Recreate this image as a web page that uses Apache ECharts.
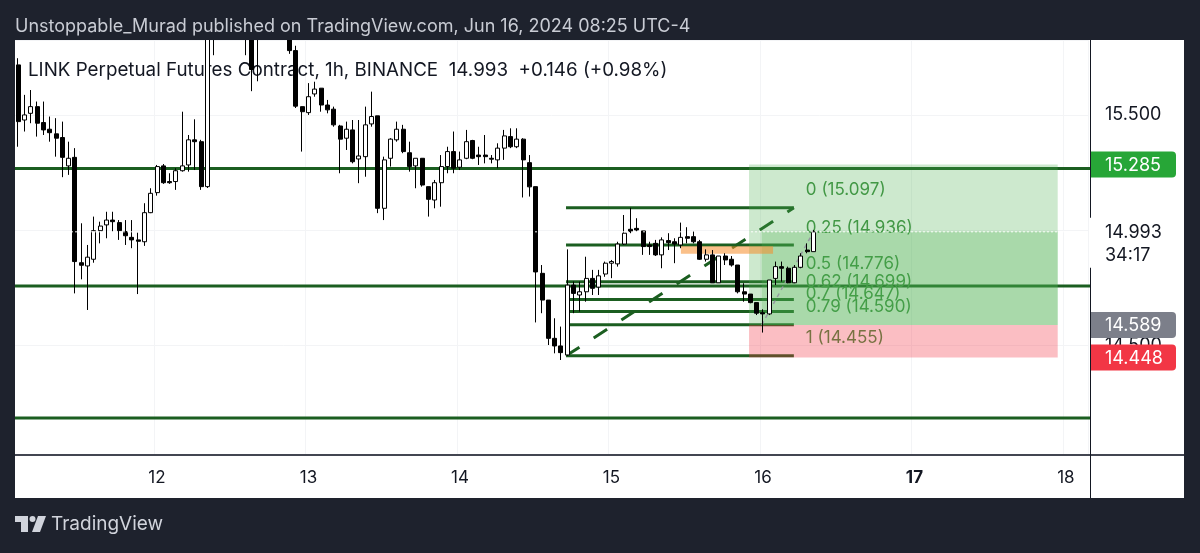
<!DOCTYPE html>
<html><head><meta charset="utf-8">
<script src="https://cdn.jsdelivr.net/npm/echarts@6/dist/echarts.min.js"></script>
<style>html,body{margin:0;padding:0;background:#1e222d;}#c{width:1200px;height:553px;}</style>
</head><body><div id="c"></div>
<script>
// ---------- DATA ----------
const titleText = 'Unstoppable_Murad published on TradingView.com, Jun 16, 2024 08:25 UTC-4';
const legendText = 'LINK Perpetual Futures Contract, 1h, BINANCE  14.993  +0.146 (+0.98%)';
const boldDay = '17';
const slotCount = 170;           // hourly slots starting Jun 11 02:00
const firstDay = 11, firstHour = 2;

const opens = [15.717,15.478,15.507,15.536,15.467,15.438,15.418,15.402,15.279,15.316,
14.859,14.845,14.874,14.998,15.023,15.044,15.033,14.994,14.969,14.958,
14.950,15.076,15.163,15.279,15.211,15.211,15.258,15.283,15.392,15.384,
15.189,15.900,15.970,15.930,16.010,15.960,15.930,15.950,15.840,15.900,
15.960,15.920,15.940,15.880,15.779,15.536,15.510,15.591,15.616,15.543,
15.525,15.452,15.399,15.435,15.309,15.319,15.461,15.496,15.095,15.312,
15.392,15.438,15.336,15.279,15.312,15.189,15.131,15.206,15.276,15.341,
15.273,15.312,15.389,15.326,15.326,15.312,15.305,15.356,15.406,15.362,
15.395,15.293,15.189,14.813,14.697,14.531,14.498,14.459,14.762,14.719,
14.733,14.791,14.753,14.810,14.857,14.854,14.940,15.004,15.008,14.997,
14.936,14.943,14.893,14.955,14.950,14.936,14.972,14.972,14.950,14.874,
14.893,14.772,14.888,14.874,14.849,14.733,14.723,14.686,14.642,14.637,
14.791,14.842,14.835,14.772,14.839,14.914,14.907];
const highs = [15.746,15.587,15.608,15.558,15.558,15.493,15.486,15.471,15.384,15.356,
15.030,14.936,15.059,15.037,15.080,15.080,15.044,15.044,15.044,14.989,
15.117,15.182,15.283,15.287,15.247,15.269,15.514,15.413,15.481,15.392,
15.950,16.020,16.050,16.060,16.040,16.000,15.990,15.980,15.940,16.000,
16.010,15.980,15.970,15.920,15.800,15.536,15.638,15.644,15.616,15.565,
15.536,15.457,15.471,15.478,15.478,15.536,15.601,15.496,15.319,15.399,
15.471,15.457,15.384,15.312,15.312,15.189,15.218,15.326,15.362,15.428,
15.341,15.435,15.392,15.362,15.413,15.326,15.377,15.435,15.442,15.442,
15.399,15.326,15.189,14.849,14.697,14.618,14.582,14.917,14.777,14.777,
14.885,14.828,14.828,14.864,14.871,14.950,15.066,15.097,15.052,14.997,
14.950,14.958,14.969,14.987,14.965,15.033,15.013,14.994,14.958,14.917,
14.914,14.888,14.900,14.888,14.849,14.770,14.723,14.686,14.657,14.784,
14.864,14.864,14.842,14.849,14.900,14.943,15.001];
const lows = [15.362,15.428,15.464,15.406,15.413,15.384,15.319,15.230,15.240,14.726,
14.787,14.654,14.859,14.943,14.965,14.994,14.958,14.936,14.922,14.723,
14.932,15.074,15.150,15.201,15.201,15.175,15.254,15.254,15.261,15.175,
15.183,15.759,15.880,15.900,15.910,15.870,15.759,15.603,15.646,15.860,
15.870,15.860,15.840,15.765,15.530,15.341,15.500,15.579,15.514,15.507,
15.449,15.247,15.348,15.290,15.204,15.232,15.449,15.074,15.044,15.276,
15.384,15.334,15.254,15.182,15.189,15.059,15.095,15.102,15.247,15.247,
15.261,15.308,15.308,15.283,15.290,15.290,15.269,15.305,15.356,15.356,
15.142,15.146,14.600,14.640,14.502,14.466,14.437,14.455,14.640,14.647,
14.690,14.719,14.719,14.798,14.792,14.842,14.936,14.987,14.994,14.893,
14.893,14.888,14.835,14.914,14.857,14.922,14.943,14.943,14.871,14.864,
14.772,14.772,14.849,14.842,14.726,14.690,14.683,14.632,14.556,14.632,
14.762,14.777,14.770,14.770,14.835,14.900,14.907];
const closes = [15.471,15.500,15.536,15.464,15.435,15.423,15.399,15.316,15.312,14.864,
14.848,14.883,14.998,15.018,15.044,15.037,14.998,14.976,14.958,14.952,
15.076,15.160,15.276,15.206,15.206,15.258,15.279,15.392,15.384,15.189,
15.900,15.970,15.930,16.010,15.960,15.930,15.950,15.697,15.900,15.960,
15.920,15.940,15.880,15.779,15.538,15.514,15.579,15.612,15.543,15.522,
15.457,15.395,15.438,15.297,15.322,15.457,15.493,15.095,15.305,15.395,
15.438,15.341,15.276,15.312,15.196,15.134,15.206,15.276,15.341,15.269,
15.305,15.384,15.312,15.319,15.319,15.308,15.356,15.409,15.362,15.395,
15.305,15.188,14.819,14.697,14.531,14.498,14.469,14.762,14.726,14.733,
14.791,14.748,14.802,14.857,14.864,14.940,14.987,14.994,15.001,14.929,
14.929,14.893,14.958,14.946,14.940,14.969,14.965,14.950,14.874,14.893,
14.772,14.888,14.871,14.849,14.733,14.723,14.686,14.640,14.637,14.784,
14.842,14.835,14.772,14.839,14.888,14.907,14.993];

// horizontal support / resistance lines
const hLines = [15.268, 14.758, 14.185];
// fibonacci retracement (x in hourly slot index)
const fibStart = 86.8, fibEnd = 122.9;
const fibLevels = ['0','0.25','0.5','0.62','0.7','0.79','1'];
const fibPrices = [15.097,14.936,14.776,14.699,14.647,14.590,14.455];
// long position tool
const posStart = 115.8, posEnd = 164.7, profitStart = 117.8;
const targetPrice = 15.285, entryPrice = 14.589, stopPrice = 14.448;
const lastPrice = 14.993, lastSlot = 126, countdown = '34:17';
// orange zone
const zoneStart = 105.0, zoneEnd = 119.6, zoneTop = 14.930, zoneBottom = 14.898;
// price axis range
const yMin = 14.025, yMax = 15.825;
const axisTicksShown = [15.5, 14.5];

// ---------- BUILD ----------
const FONT = 'Inter, "Liberation Sans", sans-serif';
const DG = '#1b5e20';
const FIBTXT = '#3f8f42';
const slots = [];
for (let k = 0; k < slotCount; k++) {
  const t = k + firstHour;
  const d = firstDay + Math.floor(t / 24), h = t % 24;
  slots.push(d + ' ' + String(h).padStart(2, '0') + ':00');
}
const isMidnight = (i, v) => v.endsWith(' 00:00');
const candles = opens.map((o, i) => [o, closes[i], lows[i], highs[i]]);

function txt(text, x, y, font, fill, align, valign) {
  return {type: 'text', style: {text, x, y, font, fill,
    textAlign: align || 'left', textVerticalAlign: valign || 'middle',
    align: align || 'left', verticalAlign: valign || 'middle'}};
}
function ln(x1, y1, x2, y2, stroke, w, dash) {
  return {type: 'line', shape: {x1, y1, x2, y2}, style: {stroke, lineWidth: w, lineDash: dash || null}};
}

const chart = echarts.init(document.getElementById('c'), null, {width: 1200, height: 553});
const option = {
  backgroundColor: '#1e222d',
  animation: false,
  grid: {left: 15, right: 112, top: 40, bottom: 98},
  xAxis: [{
    type: 'category', data: slots, boundaryGap: true,
    axisLine: {show: false}, axisTick: {show: false},
    axisLabel: {interval: isMidnight, margin: 14, color: '#131722', fontSize: 17, fontFamily: FONT,
      formatter: v => { const d = v.split(' ')[0]; return d === boldDay ? '{b|' + d + '}' : d; },
      rich: {b: {fontWeight: 'bold', fontSize: 17, fontFamily: FONT, color: '#131722'}}},
    splitLine: {show: true, interval: isMidnight, lineStyle: {color: '#f3f4f6'}}
  }, {
    type: 'value', min: -0.5, max: slotCount - 0.5, show: false
  }],
  yAxis: {
    type: 'value', position: 'right', min: yMin, max: yMax, splitNumber: 4, scale: true,
    axisLine: {show: false}, axisTick: {show: false},
    axisLabel: {margin: 17, color: '#131722', fontSize: 18, fontFamily: FONT, showMinLabel: false, showMaxLabel: false,
      formatter: v => axisTicksShown.some(t => Math.abs(t - v) < 1e-6) ? v.toFixed(3) : ''},
    splitLine: {show: true, lineStyle: {color: '#f3f4f6'}}
  },
  graphic: [
    {type: 'rect', z: -10, shape: {x: 15, y: 40, width: 1169, height: 458}, style: {fill: '#ffffff'}},
    {type: 'rect', z: 50, shape: {x: 0, y: 0, width: 1200, height: 40}, style: {fill: '#1e222d'}},
    {type: 'text', z: 51, x: 15, y: 27, style: {text: titleText, font: '18px ' + FONT, fill: '#c9ccd4', textVerticalAlign: 'middle', verticalAlign: 'middle'}},
    {type: 'text', z: 1, x: 28, y: 70, style: {text: legendText, font: '18.8px ' + FONT, fill: '#131722', textVerticalAlign: 'middle', verticalAlign: 'middle'}},
    {type: 'line', z: 1, shape: {x1: 15, y1: 455, x2: 1184, y2: 455}, style: {stroke: '#434651', lineWidth: 2}},
    {type: 'line', z: 1, shape: {x1: 1090.5, y1: 40, x2: 1090.5, y2: 498}, style: {stroke: '#131722', lineWidth: 1}},
    // TradingView logo
    {type: 'rect', z: 1, shape: {x: 15, y: 516, width: 13, height: 6}, style: {fill: '#d1d4dc'}},
    {type: 'rect', z: 1, shape: {x: 21, y: 516, width: 7, height: 16}, style: {fill: '#d1d4dc'}},
    {type: 'circle', z: 1, shape: {cx: 32.5, cy: 519, r: 3}, style: {fill: '#d1d4dc'}},
    {type: 'polygon', z: 1, shape: {points: [[38, 516], [46, 516], [40, 532], [32, 532]]}, style: {fill: '#d1d4dc'}},
    {type: 'text', z: 1, x: 51, y: 524, style: {text: 'TradingView', font: '19px ' + FONT, fill: '#d1d4dc', textVerticalAlign: 'middle', verticalAlign: 'middle'}}
  ],
  series: [
    { // full-width horizontal lines
      type: 'custom', xAxisIndex: 1, z: 3, clip: false, silent: true,
      data: hLines.map(p => [0, p]),
      renderItem: (params, api) => {
        const y = api.coord([0, api.value(1)])[1];
        const cs = params.coordSys;
        return ln(cs.x, y, cs.x + cs.width + 2, y, DG, 3);
      }
    },
    { // fibonacci retracement
      type: 'custom', xAxisIndex: 1, z: 3, clip: false, silent: true,
      data: fibPrices.map((p, k) => [fibEnd, p, k]),
      renderItem: (params, api) => {
        const k = api.value(2), p = fibPrices[k];
        const a = api.coord([fibStart, p]), b = api.coord([fibEnd, p]);
        const ch = [ln(a[0], a[1], b[0], b[1], DG, 3),
          txt(fibLevels[k] + ' (' + p.toFixed(3) + ')', b[0] + 12, a[1] - 9, '17px ' + FONT, FIBTXT, 'left', 'bottom')];
        if (k === 0) {
          const s = api.coord([fibStart, fibPrices[fibPrices.length - 1]]);
          ch.push(ln(s[0], s[1], b[0], b[1], DG, 3, [16, 17]));
        }
        return {type: 'group', children: ch};
      }
    },
    { // long position tool
      type: 'custom', xAxisIndex: 1, z: 4, clip: false, silent: true,
      data: [[posStart, entryPrice]],
      renderItem: (params, api) => {
        const tl = api.coord([posStart, targetPrice]), br = api.coord([posEnd, entryPrice]);
        const pl = api.coord([profitStart, lastPrice]), sb = api.coord([posEnd, stopPrice]);
        const e0 = api.coord([profitStart, entryPrice]), e1 = api.coord([lastSlot, lastPrice]);
        return {type: 'group', children: [
          {type: 'rect', shape: {x: tl[0], y: tl[1], width: br[0] - tl[0], height: br[1] - tl[1]}, style: {fill: 'rgba(76,175,80,0.28)'}},
          {type: 'rect', shape: {x: pl[0], y: pl[1], width: br[0] - pl[0], height: br[1] - pl[1]}, style: {fill: 'rgba(76,175,80,0.28)'}},
          {type: 'rect', shape: {x: tl[0], y: br[1], width: br[0] - tl[0], height: sb[1] - br[1]}, style: {fill: 'rgba(242,54,69,0.32)'}},
          ln(e0[0], e0[1], e1[0], e1[1], '#9598a1', 1.5, [4, 4])
        ]};
      }
    },
    { // orange zone
      type: 'custom', xAxisIndex: 1, z: 5, clip: false, silent: true,
      data: [[zoneStart, zoneTop]],
      renderItem: (params, api) => {
        const a = api.coord([zoneStart, zoneTop]), b = api.coord([zoneEnd, zoneBottom]);
        return {type: 'rect', shape: {x: a[0], y: a[1], width: b[0] - a[0], height: b[1] - a[1]}, style: {fill: 'rgba(245,140,40,0.55)'}};
      }
    },
    {
      type: 'candlestick', xAxisIndex: 0, z: 10, barWidth: 4.5, clip: true, data: candles,
      itemStyle: {color: '#ffffff', color0: '#000000', borderColor: '#000000', borderColor0: '#000000', borderWidth: 1}
    },
    { // current price dotted line
      type: 'custom', xAxisIndex: 1, z: 11, clip: false, silent: true,
      data: [[0, lastPrice]],
      renderItem: (params, api) => {
        const y = api.coord([0, lastPrice])[1], cs = params.coordSys;
        return ln(cs.x, y, cs.x + cs.width, y, 'rgba(255,255,255,0.95)', 1, [2, 2]);
      }
    },
    { // price axis tags
      type: 'custom', xAxisIndex: 1, z: 12, clip: false, silent: true,
      data: [[0, lastPrice]],
      renderItem: (params, api) => {
        const cs = params.coordSys, bx = cs.x + cs.width + 3, tx = cs.x + cs.width + 17;
        const tag = (p, fill) => {
          const y = api.coord([0, p])[1];
          return [{type: 'rect', shape: {x: bx, y: y - 13, width: 85, height: 26, r: [0, 4, 4, 0]}, style: {fill}},
            txt(p.toFixed(3), tx, y + 1, '18px ' + FONT, '#ffffff')];
        };
        const ly = api.coord([0, lastPrice])[1];
        return {type: 'group', children: [
          {type: 'rect', shape: {x: bx - 2, y: ly - 14, width: 87, height: 50}, style: {fill: '#ffffff'}},
          txt(lastPrice.toFixed(3), tx, ly + 1, '18px ' + FONT, '#131722'),
          txt(countdown, tx, ly + 24, '18px ' + FONT, '#131722'),
          ...tag(targetPrice, '#27a637'),
          ...tag(entryPrice, '#7c7f8a'),
          ...tag(stopPrice, '#f23645')
        ]};
      }
    }
  ]
};
chart.setOption(option);
</script></body></html>
